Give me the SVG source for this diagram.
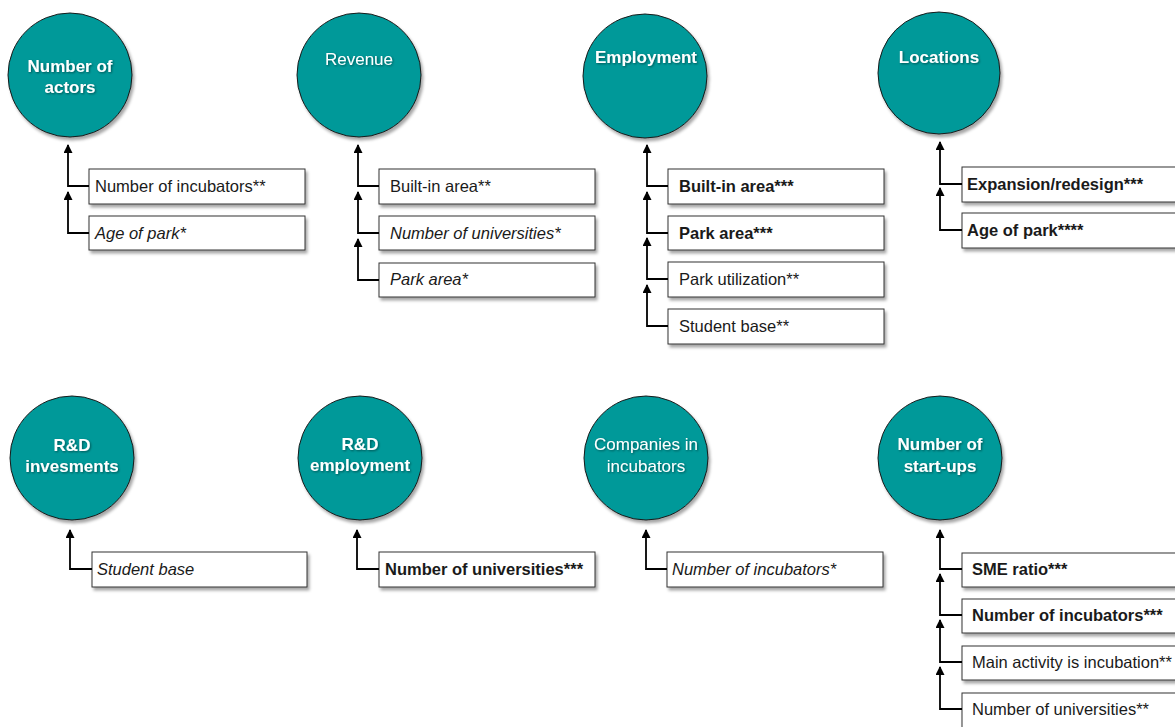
<svg xmlns="http://www.w3.org/2000/svg" width="1175" height="727" viewBox="0 0 1175 727">
<defs>
<filter id="bs" x="-5%" y="-20%" width="115%" height="160%">
<feDropShadow dx="2" dy="3" stdDeviation="1.5" flood-color="#000" flood-opacity="0.35"/>
</filter>
<filter id="ts" x="-10%" y="-30%" width="120%" height="160%">
<feDropShadow dx="1" dy="1" stdDeviation="0.8" flood-color="#000" flood-opacity="0.45"/>
</filter>
<marker id="ah" viewBox="0 0 10 10" refX="9" refY="5" markerWidth="10" markerHeight="9" markerUnits="userSpaceOnUse" orient="auto">
<path d="M0,0 L10,5 L0,10 z" fill="#000"/>
</marker>
</defs>
<style>
.c{fill:#009999;stroke:#1a1a1a;stroke-width:1;filter:url(#bs)}
.ct{font-family:"Liberation Sans",Arial,sans-serif;font-size:17px;fill:#fff;text-anchor:middle;filter:url(#ts)}
.b{font-weight:bold}
.bx{fill:#fff;stroke:#333;stroke-width:1;filter:url(#bs)}
.t{font-family:"Liberation Sans",Arial,sans-serif;font-size:16.5px;fill:#1a1a1a}
.i{font-style:italic}
.k{fill:none;stroke:#000;stroke-width:1.8;marker-end:url(#ah)}
</style>

<g id="n-actors">
<circle class="c" cx="70" cy="75" r="62"/>
<text class="ct b" x="70" y="72">Number of</text>
<text class="ct b" x="70" y="93">actors</text>
</g>
<g id="n-actors-1"><rect class="bx" x="89" y="169" width="216" height="35"/><text class="t" x="95" y="192">Number of incubators**</text></g>
<g id="n-actors-2"><rect class="bx" x="89" y="216" width="216" height="34"/><text class="t i" x="95" y="239">Age of park*</text></g>

<g id="n-revenue">
<circle class="c" cx="359" cy="75" r="62"/>
<text class="ct" x="359" y="65">Revenue</text>
</g>
<g id="n-revenue-1"><rect class="bx" x="379" y="169" width="216" height="35"/><text class="t" x="390" y="192">Built-in area**</text></g>
<g id="n-revenue-2"><rect class="bx" x="379" y="216" width="216" height="34"/><text class="t i" x="390" y="239">Number of universities*</text></g>
<g id="n-revenue-3"><rect class="bx" x="379" y="263" width="216" height="34"/><text class="t i" x="390" y="285">Park area*</text></g>

<g id="n-employment">
<circle class="c" cx="645" cy="76" r="62"/>
<text class="ct b" x="646" y="63">Employment</text>
</g>
<g id="n-employment-1"><rect class="bx" x="668" y="169" width="216" height="35"/><text class="t b" x="679" y="192">Built-in area***</text></g>
<g id="n-employment-2"><rect class="bx" x="668" y="216" width="216" height="34"/><text class="t b" x="679" y="239">Park area***</text></g>
<g id="n-employment-3"><rect class="bx" x="668" y="262" width="216" height="35"/><text class="t" x="679" y="285">Park utilization**</text></g>
<g id="n-employment-4"><rect class="bx" x="668" y="309" width="216" height="35"/><text class="t" x="679" y="332">Student base**</text></g>

<g id="n-locations">
<circle class="c" cx="939" cy="73" r="61"/>
<text class="ct b" x="939" y="63">Locations</text>
</g>
<g id="n-locations-1"><rect class="bx" x="962" y="167" width="230" height="35"/><text class="t b" x="967" y="190">Expansion/redesign***</text></g>
<g id="n-locations-2"><rect class="bx" x="962" y="213" width="230" height="35"/><text class="t b" x="967" y="236">Age of park****</text></g>

<g id="n-rdinv">
<circle class="c" cx="72" cy="458" r="62"/>
<text class="ct b" x="72" y="451">R&amp;D</text>
<text class="ct b" x="72" y="472">invesments</text>
</g>
<g id="n-rdinv-1"><rect class="bx" x="92" y="552" width="215" height="35"/><text class="t i" x="97" y="575">Student base</text></g>

<g id="n-rdemp">
<circle class="c" cx="360" cy="458" r="62"/>
<text class="ct b" x="360" y="450">R&amp;D</text>
<text class="ct b" x="360" y="471">employment</text>
</g>
<g id="n-rdemp-1"><rect class="bx" x="379" y="552" width="216" height="35"/><text class="t b" x="385" y="575">Number of universities***</text></g>

<g id="n-companies">
<circle class="c" cx="646" cy="458" r="62"/>
<text class="ct" x="646" y="450">Companies in</text>
<text class="ct" x="646" y="472">incubators</text>
</g>
<g id="n-companies-1"><rect class="bx" x="667" y="552" width="216" height="35"/><text class="t i" x="672" y="575">Number of incubators*</text></g>

<g id="n-startups">
<circle class="c" cx="940" cy="458" r="62"/>
<text class="ct b" x="940" y="450">Number of</text>
<text class="ct b" x="940" y="472">start-ups</text>
</g>
<g id="n-startups-1"><rect class="bx" x="962" y="553" width="230" height="34"/><text class="t b" x="972" y="575">SME ratio***</text></g>
<g id="n-startups-2"><rect class="bx" x="962" y="599" width="230" height="34"/><text class="t b" x="972" y="621">Number of incubators***</text></g>
<g id="n-startups-3"><rect class="bx" x="962" y="646" width="230" height="34"/><text class="t" x="972" y="668">Main activity is incubation**</text></g>
<g id="n-startups-4"><rect class="bx" x="962" y="693" width="230" height="40"/><text class="t" x="972" y="715">Number of universities**</text></g>

<g id="connectors">
<path class="k" d="M89,186 H68 V145"/>
<path class="k" d="M89,233 H68 V192"/>
<path class="k" d="M379,186 H358 V145"/>
<path class="k" d="M379,233 H358 V192"/>
<path class="k" d="M379,280 H358 V239"/>
<path class="k" d="M668,186 H647 V145"/>
<path class="k" d="M668,233 H647 V192"/>
<path class="k" d="M668,279 H647 V238"/>
<path class="k" d="M668,326 H647 V285"/>
<path class="k" d="M962,184 H940 V142"/>
<path class="k" d="M962,230 H940 V188"/>
<path class="k" d="M92,569 H70 V530"/>
<path class="k" d="M379,569 H357 V530"/>
<path class="k" d="M667,569 H646 V530"/>
<path class="k" d="M962,569 H940 V530"/>
<path class="k" d="M962,615 H940 V574"/>
<path class="k" d="M962,662 H940 V620"/>
<path class="k" d="M962,709 H940 V667"/>
</g>
</svg>
